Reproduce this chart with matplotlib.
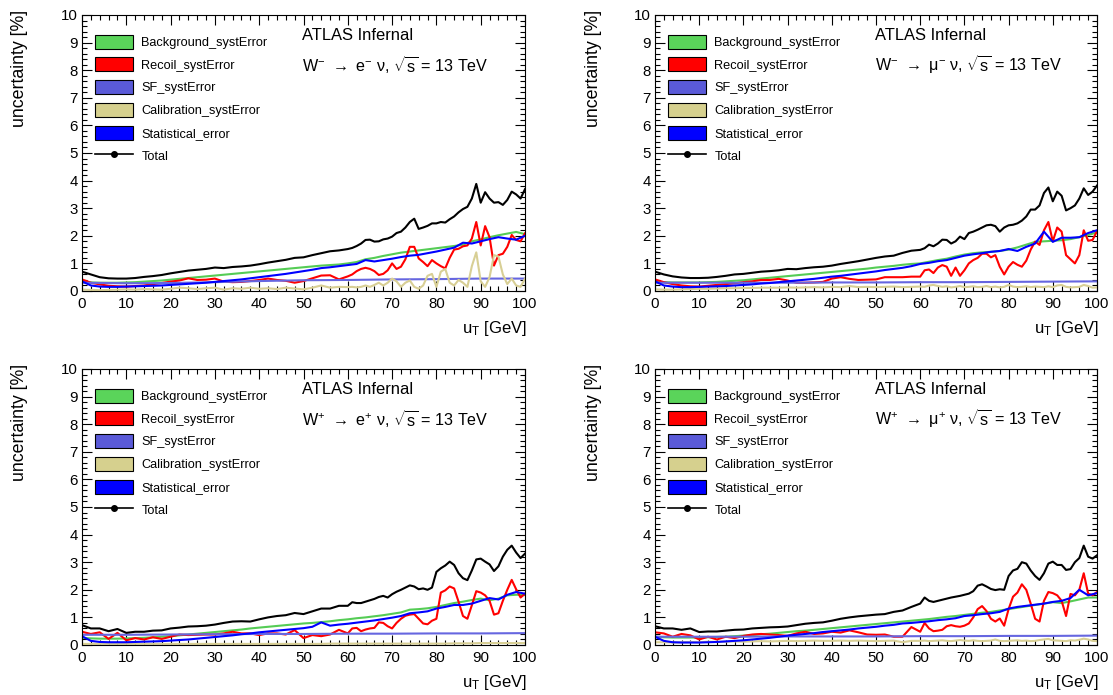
import numpy as np
import matplotlib
matplotlib.use('Agg')
import matplotlib.pyplot as plt
from matplotlib.patches import Patch
from matplotlib.lines import Line2D
from matplotlib.ticker import MultipleLocator

plt.rcParams['font.family'] = ['Liberation Sans', 'DejaVu Sans']
plt.rcParams['mathtext.fontset'] = 'custom'
plt.rcParams['mathtext.rm'] = 'Liberation Sans'
plt.rcParams['mathtext.default'] = 'regular'
plt.rcParams['axes.linewidth'] = 0.8

# x grids (GeV)
ut_coarse = list(range(0, 101, 2))
ut_fine = list(range(0, 60, 2)) + list(range(60, 101))
ut_sf = list(range(0, 101, 10))

# ---- W- -> e- nu ----
tl_bkg = [0.33, 0.31, 0.3, 0.3, 0.3, 0.31, 0.32, 0.34, 0.36, 0.38,
          0.41, 0.44, 0.47, 0.5, 0.53, 0.56, 0.59, 0.62, 0.65, 0.68,
          0.71, 0.74, 0.77, 0.8, 0.83, 0.86, 0.89, 0.92, 0.94, 0.96,
          1.0, 1.05, 1.15, 1.2, 1.27, 1.33, 1.39, 1.43, 1.47, 1.51,
          1.55, 1.59, 1.63, 1.68, 1.8, 1.87, 1.95, 2.02, 2.08, 2.14, 2.06]
tl_stat = [0.35, 0.2, 0.16, 0.15, 0.15, 0.16, 0.17, 0.18, 0.19, 0.2,
           0.22, 0.24, 0.26, 0.28, 0.3, 0.33, 0.36, 0.39, 0.42, 0.46,
           0.5, 0.54, 0.58, 0.62, 0.67, 0.72, 0.77, 0.83, 0.86, 0.9,
           0.94, 0.98, 1.12, 1.07, 1.12, 1.17, 1.23, 1.28, 1.31, 1.37,
           1.43, 1.5, 1.57, 1.75, 1.72, 1.8, 1.88, 1.95, 1.9, 1.86, 2.0]
tl_sf = [0.3, 0.28, 0.29, 0.32, 0.36, 0.39, 0.4, 0.42, 0.43, 0.45, 0.45]
tl_rec = [0.42, 0.3, 0.24, 0.19, 0.17, 0.16, 0.18, 0.2, 0.25, 0.29,
          0.34, 0.38, 0.46, 0.4, 0.41, 0.45, 0.34, 0.32, 0.33, 0.36,
          0.4, 0.45, 0.4, 0.37, 0.3, 0.36, 0.46, 0.56, 0.57, 0.42,
          0.53, 0.6, 0.72, 0.8, 0.84, 0.8, 0.72, 0.58, 0.62, 0.75,
          1.0, 0.8, 0.88, 1.15, 1.6, 1.6, 1.18, 1.05, 0.9, 1.12,
          1.0, 0.9, 0.82, 1.2, 1.5, 1.53, 1.62, 1.65, 1.9, 2.5,
          1.65, 2.35, 1.95, 0.92, 1.3, 1.35, 1.6, 2.03, 1.85, 1.8,
          2.09]
tl_cal = [0.05, 0.04, 0.03, 0.04, 0.05, 0.06, 0.05, 0.07, 0.06, 0.05,
          0.08, 0.12, 0.1, 0.07, 0.1, 0.12, 0.05, 0.1, 0.08, 0.12,
          0.08, 0.1, 0.07, 0.12, 0.09, 0.06, 0.12, 0.2, 0.12, 0.15,
          0.14, 0.15, 0.13, 0.15, 0.2, 0.15, 0.22, 0.3, 0.2, 0.3,
          0.45, 0.35, 0.15, 0.3, 0.38, 0.15, 0.08, 0.2, 0.55, 0.62,
          0.15, 0.7, 0.8, 0.3, 0.2, 0.4, 0.3, 0.15, 0.9, 1.4,
          0.35, 0.15, 0.5, 1.3, 1.25, 0.6, 0.25, 0.45, 0.2, 0.15,
          0.45]
tl_tot = [0.7, 0.6, 0.5, 0.46, 0.45, 0.45, 0.47, 0.51, 0.54, 0.58,
          0.64, 0.69, 0.74, 0.77, 0.8, 0.85, 0.83, 0.87, 0.89, 0.92,
          0.97, 1.03, 1.08, 1.13, 1.2, 1.22, 1.3, 1.37, 1.44, 1.47,
          1.52, 1.56, 1.63, 1.72, 1.85, 1.86, 1.79, 1.8, 1.87, 1.9,
          1.97, 2.1, 2.15, 2.3, 2.5, 2.62, 2.25, 2.3, 2.36, 2.45,
          2.45, 2.5, 2.48, 2.6, 2.7, 2.85, 2.97, 3.05, 3.35, 3.88,
          3.2, 3.58, 3.35, 3.2, 3.22, 3.12, 3.3, 3.6, 3.5, 3.35,
          3.69]

# ---- W- -> mu- nu ----
tr_bkg = [0.33, 0.32, 0.31, 0.31, 0.31, 0.31, 0.32, 0.33, 0.35, 0.37,
          0.39, 0.42, 0.45, 0.48, 0.51, 0.54, 0.57, 0.6, 0.63, 0.66,
          0.69, 0.72, 0.75, 0.78, 0.81, 0.85, 0.88, 0.91, 0.95, 0.98,
          1.0, 1.06, 1.12, 1.17, 1.25, 1.32, 1.37, 1.4, 1.42, 1.45,
          1.5, 1.58, 1.68, 1.78, 1.8, 1.82, 1.84, 1.88, 1.95, 2.03, 2.12]
tr_stat = [0.35, 0.2, 0.16, 0.14, 0.14, 0.15, 0.16, 0.17, 0.18, 0.2,
           0.22, 0.24, 0.27, 0.29, 0.32, 0.35, 0.38, 0.41, 0.44, 0.48,
           0.52, 0.55, 0.59, 0.63, 0.67, 0.71, 0.76, 0.8, 0.84, 0.9,
           0.98, 1.02, 1.08, 1.12, 1.2, 1.28, 1.33, 1.37, 1.42, 1.45,
           1.52, 1.45, 1.6, 1.72, 2.15, 1.78, 1.93, 1.93, 1.95, 2.1, 2.2]
tr_sf = [0.3, 0.3, 0.3, 0.3, 0.31, 0.31, 0.32, 0.32, 0.33, 0.34, 0.35]
tr_rec = [0.42, 0.32, 0.25, 0.2, 0.17, 0.16, 0.19, 0.22, 0.25, 0.28,
          0.32, 0.35, 0.4, 0.4, 0.44, 0.38, 0.3, 0.3, 0.31, 0.33,
          0.45, 0.5, 0.44, 0.4, 0.41, 0.42, 0.5, 0.5, 0.5, 0.52,
          0.52, 0.75, 0.78, 0.65, 0.85, 0.94, 0.88, 0.55, 0.85, 0.55,
          0.75, 1.0, 1.12, 1.2, 1.35, 1.35, 1.22, 1.3, 0.88, 0.6,
          0.88, 1.05, 0.95, 0.88, 1.1, 1.5, 1.79, 1.67, 2.2, 2.5,
          1.8, 2.3, 2.15, 1.3, 1.15, 1.0, 1.3, 2.2, 1.82, 1.85,
          2.17]
tr_cal = [0.06, 0.05, 0.05, 0.06, 0.07, 0.08, 0.08, 0.09, 0.1, 0.1,
          0.11, 0.11, 0.12, 0.12, 0.12, 0.13, 0.12, 0.13, 0.14, 0.13,
          0.15, 0.14, 0.18, 0.14, 0.15, 0.14, 0.15, 0.16, 0.14, 0.15,
          0.16, 0.15, 0.2, 0.22, 0.18, 0.15, 0.17, 0.13, 0.15, 0.18,
          0.14, 0.15, 0.17, 0.14, 0.15, 0.18, 0.14, 0.16, 0.13, 0.15,
          0.22, 0.16, 0.14, 0.15, 0.17, 0.14, 0.16, 0.15, 0.14, 0.17,
          0.14, 0.2, 0.22, 0.15, 0.13, 0.14, 0.15, 0.22, 0.18, 0.12,
          0.13]
tr_tot = [0.7, 0.6, 0.53, 0.49, 0.47, 0.47, 0.48, 0.51, 0.55, 0.6,
          0.62, 0.66, 0.7, 0.72, 0.75, 0.8, 0.79, 0.83, 0.86, 0.88,
          0.92, 0.98, 1.03, 1.08, 1.14, 1.2, 1.25, 1.28, 1.38, 1.46,
          1.49, 1.55, 1.68, 1.62, 1.72, 1.86, 1.85, 1.72, 1.8, 1.97,
          1.88, 2.1, 2.15, 2.22, 2.3, 2.38, 2.4, 2.35, 2.15, 2.3,
          2.38, 2.4, 2.45, 2.55, 2.7, 2.95, 2.95, 3.1, 3.55, 3.75,
          3.25, 3.6, 3.45, 2.92, 3.0, 3.1, 3.35, 3.72, 3.48, 3.6,
          3.82]

# ---- W+ -> e+ nu ----
bl_bkg = [0.26, 0.24, 0.23, 0.23, 0.23, 0.24, 0.25, 0.26, 0.28, 0.3,
          0.32, 0.35, 0.38, 0.41, 0.44, 0.47, 0.5, 0.53, 0.56, 0.6,
          0.63, 0.66, 0.69, 0.72, 0.75, 0.78, 0.8, 0.83, 0.86, 0.9,
          0.93, 0.97, 1.0, 1.04, 1.08, 1.13, 1.18, 1.28, 1.3, 1.33,
          1.38, 1.45, 1.52, 1.57, 1.63, 1.68, 1.62, 1.68, 1.8, 1.82, 1.82]
bl_stat = [0.32, 0.15, 0.11, 0.1, 0.1, 0.1, 0.11, 0.12, 0.13, 0.14,
           0.16, 0.18, 0.2, 0.23, 0.26, 0.29, 0.32, 0.35, 0.39, 0.42,
           0.46, 0.49, 0.52, 0.55, 0.58, 0.61, 0.66, 0.82, 0.7, 0.74,
           0.77, 0.81, 0.85, 0.89, 0.94, 0.99, 1.05, 1.15, 1.18, 1.22,
           1.32, 1.38, 1.45, 1.45, 1.5, 1.6, 1.7, 1.65, 1.82, 1.92, 1.86]
bl_sf = [0.37, 0.37, 0.38, 0.39, 0.4, 0.4, 0.41, 0.41, 0.42, 0.42, 0.43]
bl_rec = [0.48, 0.4, 0.46, 0.22, 0.44, 0.17, 0.25, 0.2, 0.28, 0.22,
          0.3, 0.38, 0.36, 0.37, 0.38, 0.38, 0.42, 0.48, 0.42, 0.42,
          0.36, 0.42, 0.42, 0.38, 0.54, 0.25, 0.36, 0.32, 0.38, 0.55,
          0.42, 0.6, 0.62, 0.5, 0.56, 0.6, 0.62, 0.82, 0.8, 0.68,
          0.6, 0.8, 0.95, 1.06, 1.1, 1.12, 0.95, 0.78, 0.75, 0.88,
          0.95, 1.9, 1.98, 2.12, 2.05, 1.57, 1.05, 0.95, 1.44, 1.95,
          1.9, 1.8, 1.6, 1.1, 1.15, 1.6, 2.0, 2.36, 2.02, 1.72,
          1.86]
bl_cal = [0.04, 0.04, 0.04, 0.04, 0.04, 0.04, 0.04, 0.04, 0.04, 0.04,
          0.04, 0.04, 0.04, 0.04, 0.04, 0.04, 0.04, 0.04, 0.04, 0.04,
          0.04, 0.04, 0.04, 0.04, 0.04, 0.04, 0.04, 0.04, 0.05, 0.05,
          0.05, 0.05, 0.05, 0.05, 0.05, 0.05, 0.05, 0.05, 0.05, 0.05,
          0.05, 0.05, 0.06, 0.06, 0.06, 0.07, 0.07, 0.07, 0.07, 0.07, 0.07]
bl_tot = [0.72, 0.6, 0.6, 0.5, 0.58, 0.44, 0.48, 0.48, 0.52, 0.53,
          0.6, 0.63, 0.67, 0.68, 0.7, 0.74, 0.8, 0.85, 0.86, 0.85,
          0.93, 1.0, 1.05, 1.08, 1.16, 1.12, 1.22, 1.32, 1.32, 1.42,
          1.42, 1.55, 1.52, 1.52, 1.57, 1.62, 1.67, 1.74, 1.78, 1.72,
          1.84, 1.93, 2.0, 2.08, 2.16, 2.12, 2.02, 2.05, 2.0, 2.08,
          2.65, 2.78, 2.88, 3.02, 2.9, 2.6, 2.42, 2.35, 2.7, 3.1,
          3.13, 3.02, 2.92, 2.68, 2.85, 3.2, 3.45, 3.6, 3.35, 3.15,
          3.31]

# ---- W+ -> mu+ nu ----
br_bkg = [0.3, 0.28, 0.27, 0.27, 0.27, 0.27, 0.28, 0.29, 0.3, 0.32,
          0.34, 0.36, 0.39, 0.41, 0.44, 0.47, 0.5, 0.52, 0.55, 0.58,
          0.61, 0.64, 0.67, 0.7, 0.73, 0.76, 0.79, 0.82, 0.85, 0.88,
          0.91, 0.94, 0.98, 1.02, 1.05, 1.09, 1.13, 1.17, 1.2, 1.25,
          1.3, 1.35, 1.4, 1.45, 1.5, 1.55, 1.52, 1.58, 1.65, 1.72, 1.72]
br_stat = [0.3, 0.15, 0.1, 0.09, 0.09, 0.09, 0.1, 0.11, 0.13, 0.15,
           0.17, 0.2, 0.23, 0.26, 0.3, 0.34, 0.37, 0.4, 0.43, 0.47,
           0.5, 0.53, 0.56, 0.6, 0.63, 0.66, 0.7, 0.73, 0.78, 0.8,
           0.83, 0.86, 0.9, 0.93, 0.97, 1.05, 1.08, 1.12, 1.15, 1.2,
           1.32, 1.38, 1.42, 1.46, 1.5, 1.56, 1.6, 1.7, 2.0, 1.8, 1.88]
br_sf = [0.3, 0.3, 0.3, 0.31, 0.31, 0.31, 0.32, 0.32, 0.33, 0.33, 0.34]
br_rec = [0.46, 0.42, 0.3, 0.4, 0.35, 0.2, 0.3, 0.2, 0.3, 0.25,
          0.33, 0.38, 0.4, 0.38, 0.36, 0.33, 0.42, 0.48, 0.4, 0.42,
          0.48, 0.45, 0.53, 0.46, 0.38, 0.37, 0.38, 0.3, 0.3, 0.65,
          0.48, 0.8, 0.6, 0.5, 0.52, 0.55, 0.68, 0.72, 0.68, 0.66,
          0.7, 0.78, 1.0, 1.3, 1.41, 1.23, 0.95, 0.85, 0.96, 0.7,
          1.3, 1.75, 1.9, 2.2, 2.0, 1.5, 0.95, 0.85, 1.6, 1.92,
          1.88, 1.8, 1.6, 1.05, 1.85, 1.8, 2.0, 2.6, 1.86, 1.8,
          1.92]
br_cal = [0.1, 0.1, 0.09, 0.1, 0.11, 0.1, 0.12, 0.11, 0.12, 0.13,
          0.12, 0.13, 0.14, 0.13, 0.14, 0.15, 0.14, 0.15, 0.16, 0.15,
          0.15, 0.16, 0.15, 0.16, 0.15, 0.14, 0.15, 0.16, 0.1, 0.15,
          0.15, 0.16, 0.14, 0.15, 0.16, 0.17, 0.15, 0.14, 0.16, 0.18,
          0.16, 0.15, 0.17, 0.15, 0.14, 0.15, 0.16, 0.2, 0.15, 0.14,
          0.15, 0.16, 0.17, 0.15, 0.16, 0.14, 0.15, 0.18, 0.2, 0.22,
          0.17, 0.16, 0.15, 0.14, 0.17, 0.16, 0.19, 0.23, 0.2, 0.15,
          0.14]
br_tot = [0.68, 0.6, 0.6, 0.55, 0.6, 0.47, 0.49, 0.49, 0.52, 0.55,
          0.56, 0.6, 0.62, 0.64, 0.65, 0.67, 0.72, 0.77, 0.8, 0.82,
          0.88, 0.95, 1.0, 1.04, 1.07, 1.1, 1.12, 1.2, 1.25, 1.38,
          1.5, 1.72, 1.6, 1.56, 1.6, 1.64, 1.68, 1.72, 1.75, 1.78,
          1.82, 1.86, 1.95, 2.15, 2.2, 2.12, 2.03, 1.99, 2.02, 2.0,
          2.5, 2.7, 2.76, 3.0, 2.95, 2.7, 2.5, 2.36, 2.6, 2.95,
          3.02, 2.9, 2.9, 2.72, 2.75, 3.0, 3.15, 3.6, 3.2, 3.13,
          3.25]

labels = ['Background_systError', 'Recoil_systError', 'SF_systError',
          'Calibration_systError', 'Statistical_error', 'Total']
fill_colors = ['#5ad45a', '#ff0000', '#5a5ad8', '#d6d08e', '#0000ff']
line_colors = ['#55cc55', '#ff0000', '#6666e0', '#d8cf95', '#0000ff']

processes = ['W$^{-}$ ${\\rightarrow}$ e$^{-}$ \u03bd, $\\sqrt{s}$ = 13 TeV',
             'W$^{-}$ ${\\rightarrow}$ \u03bc$^{-}$ \u03bd, $\\sqrt{s}$ = 13 TeV',
             'W$^{+}$ ${\\rightarrow}$ e$^{+}$ \u03bd, $\\sqrt{s}$ = 13 TeV',
             'W$^{+}$ ${\\rightarrow}$ \u03bc$^{+}$ \u03bd, $\\sqrt{s}$ = 13 TeV']

panels = [
    (tl_bkg, tl_rec, tl_sf, tl_cal, tl_stat, tl_tot),
    (tr_bkg, tr_rec, tr_sf, tr_cal, tr_stat, tr_tot),
    (bl_bkg, bl_rec, bl_sf, bl_cal, bl_stat, bl_tot),
    (br_bkg, br_rec, br_sf, br_cal, br_stat, br_tot),
]


def xgrid(vals):
    # pick the u_T grid a series was read on
    for g in (ut_sf, ut_coarse, ut_fine):
        if len(g) == len(vals):
            return g


W, H = 1113, 695
fig = plt.figure(figsize=(W / 100, H / 100), dpi=100)

# axes boxes in pixels: left, top, right, bottom
boxes = [(82, 15, 525, 291), (655, 15, 1097, 291),
         (82, 369, 525, 645), (655, 369, 1097, 645)]

for i, (box, data) in enumerate(zip(boxes, panels)):
    l, t, r, b = box
    ax = fig.add_axes([l / W, 1 - b / H, (r - l) / W, (b - t) / H])
    for vals, c in zip(data[:5], line_colors):
        ax.plot(xgrid(vals), vals, color=c, lw=1.5)
    ax.plot(xgrid(data[5]), data[5], color='black', lw=1.5)

    ax.set_xlim(0, 100)
    ax.set_ylim(0, 10)
    ax.xaxis.set_major_locator(MultipleLocator(10))
    ax.xaxis.set_minor_locator(MultipleLocator(2))
    ax.yaxis.set_major_locator(MultipleLocator(1))
    ax.yaxis.set_minor_locator(MultipleLocator(0.2))
    ax.tick_params(which='both', direction='in', top=True, right=True,
                   labelsize=10.8, width=0.8)
    ax.tick_params(which='major', length=7)
    ax.tick_params(which='minor', length=3.5)
    ax.tick_params(axis='x', pad=4)
    ax.tick_params(axis='y', pad=3)

    handles = [Patch(facecolor=c, edgecolor='black', lw=0.8) for c in fill_colors]
    handles.append(Line2D([], [], color='black', lw=1.2, marker='o', ms=4))
    ax.legend(handles, labels, loc='upper left', bbox_to_anchor=(0.029, 0.929),
              frameon=False, fontsize=9.2, borderpad=0, borderaxespad=0,
              handlelength=3.0, handleheight=1.3, labelspacing=0.67,
              handletextpad=0.65)

    ax.text(0.497, 0.926, 'ATLAS Infernal', transform=ax.transAxes,
            fontsize=11.9, ha='left', va='center')
    ax.text(0.497, 0.82, processes[i], transform=ax.transAxes,
            fontsize=11.6, ha='left', va='center')

    fig.text((r + 2) / W, 1 - (b + 37) / H, r'u$_\mathrm{T}$ [GeV]',
             fontsize=12, ha='right', va='center')
    fig.text((l - 62) / W, 1 - (t - 5) / H, 'uncertainty [%]',
             fontsize=12.8, rotation=90, ha='center', va='top')

fig.savefig('out.png', dpi=100)
